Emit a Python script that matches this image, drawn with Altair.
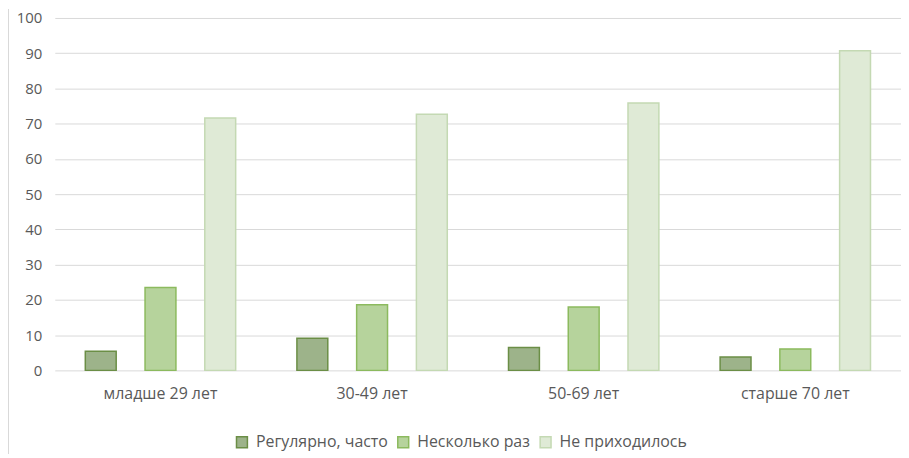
import altair as alt
import pandas as pd

categories = ["младше 29 лет", "30-49 лет", "50-69 лет", "старше 70 лет"]
series = ["Регулярно, часто", "Несколько раз", "Не приходилось"]
regular = [5.4, 9.1, 6.5, 3.8]
several = [23.5, 18.6, 18.0, 6.1]
never = [71.6, 72.7, 75.9, 90.7]

fills = ["#9db38a", "#b6d39c", "#dfead6"]
strokes = ["#6b8e46", "#8cba5e", "#c4d9b3"]

rows = []
for i, c in enumerate(categories):
    for s, vals in zip(series, [regular, several, never]):
        rows.append({"cat": c, "series": s, "value": vals[i]})
df = pd.DataFrame(rows)

FONT = "Open Sans"
GREY = "#595959"

bars = alt.Chart(df).mark_bar(strokeWidth=1.5).encode(
    x=alt.X("cat:N", sort=categories, title=None,
            scale=alt.Scale(paddingInner=0.153, paddingOuter=0.076),
            axis=alt.Axis(labelAngle=0, domain=False, ticks=False, labelPadding=15,
                          labelFontSize=16, labelColor=GREY, labelFont=FONT)),
    xOffset=alt.XOffset("series:N", sort=series,
                        scale=alt.Scale(paddingInner=0.483, paddingOuter=0.2415)),
    y=alt.Y("value:Q", title=None,
            scale=alt.Scale(domain=[0, 100], nice=False),
            axis=alt.Axis(values=list(range(0, 101, 10)), domain=False, ticks=False,
                          labelPadding=13, labelFontSize=15, labelColor=GREY, labelFont=FONT,
                          gridColor="#d9d9d9", gridWidth=1)),
    color=alt.Color("series:N", sort=series,
                    scale=alt.Scale(domain=series, range=fills),
                    legend=alt.Legend(title=None, orient="none", direction="horizontal",
                                      legendX=180, legendY=418,
                                      symbolType="square", symbolSize=120,
                                      symbolStrokeWidth=1.5,
                                      labelFontSize=16, labelColor=GREY, labelFont=FONT,
                                      columnPadding=6, labelOffset=6)),
    stroke=alt.Stroke("series:N", sort=series,
                      scale=alt.Scale(domain=series, range=strokes), legend=None),
)

border = alt.Chart(pd.DataFrame({"a": [0]})).mark_rule(color="#d9d9d9", strokeWidth=1).encode(
    x=alt.value(-46.5), y=alt.value(-9), y2=alt.value(438)
)

chart = alt.layer(bars, border).properties(
    width=850, height=354,
    autosize=alt.AutoSizeParams(type="none"),
    padding={"left": 47, "top": 9, "right": 0, "bottom": 84},
).configure_view(stroke=None)

chart.save("out.html", embed_options={"renderer": "svg", "actions": False})
